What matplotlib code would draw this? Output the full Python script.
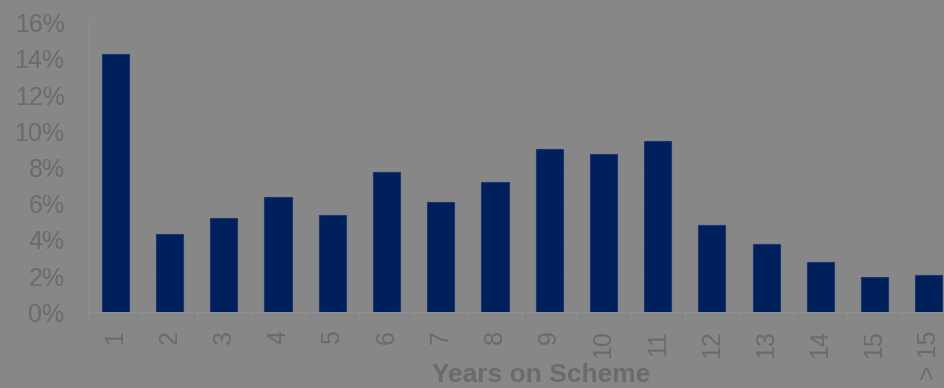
import matplotlib
matplotlib.use("Agg")
import matplotlib.pyplot as plt
import numpy as np

years = ["1", "2", "3", "4", "5", "6", "7", "8", "9", "10", "11", "12", "13", "14", "15", "> 15"]
share = [14.3, 4.35, 5.2, 6.35, 5.36, 7.77, 6.08, 7.2, 9.04, 8.76, 9.46, 4.8, 3.78, 2.79, 1.94, 2.09]

bg = "#878787"
txt = "#6b6b6b"
line = "#8e8e8e"

plt.rcParams["font.family"] = ["Liberation Sans", "DejaVu Sans"]

fig = plt.figure(figsize=(9.45, 3.88), dpi=100, facecolor=bg)
ax = fig.add_axes([0.0933, 0.195, 0.9183, 0.7464], facecolor=bg)

x = np.arange(len(years))
ax.bar(x, share, width=0.5, color="#00205b", edgecolor="#1c3570", linewidth=0.8, zorder=3)

ax.set_xlim(-0.5, len(years) - 0.5)
ax.set_ylim(0, 16)
ax.set_yticks(np.arange(0, 17, 2))
ax.set_yticklabels(["%d%%" % v for v in range(0, 17, 2)])
ax.yaxis.grid(True, color="#8a8a8a", linewidth=0.8, zorder=0)

ax.set_xticks(x)
ax.set_xticklabels(years, rotation=90)
ax.set_xticks(np.arange(-0.5, len(years), 1), minor=True)
ax.tick_params(axis="x", which="major", length=0, pad=13, labelsize=18, labelcolor=txt)
ax.tick_params(axis="x", which="minor", length=6, width=1, color=line, direction="out")
ax.tick_params(axis="y", length=0, pad=17, labelsize=18, labelcolor=txt)

for side in ["top", "right"]:
    ax.spines[side].set_visible(False)
for side in ["left", "bottom"]:
    ax.spines[side].set_color(line)
    ax.spines[side].set_linewidth(1)

fig.text(541 / 945, 6 / 388, "Years on Scheme", fontsize=19, fontweight="bold",
         color=txt, ha="center", va="baseline")

fig.savefig("out.png", dpi=100, facecolor=bg)
